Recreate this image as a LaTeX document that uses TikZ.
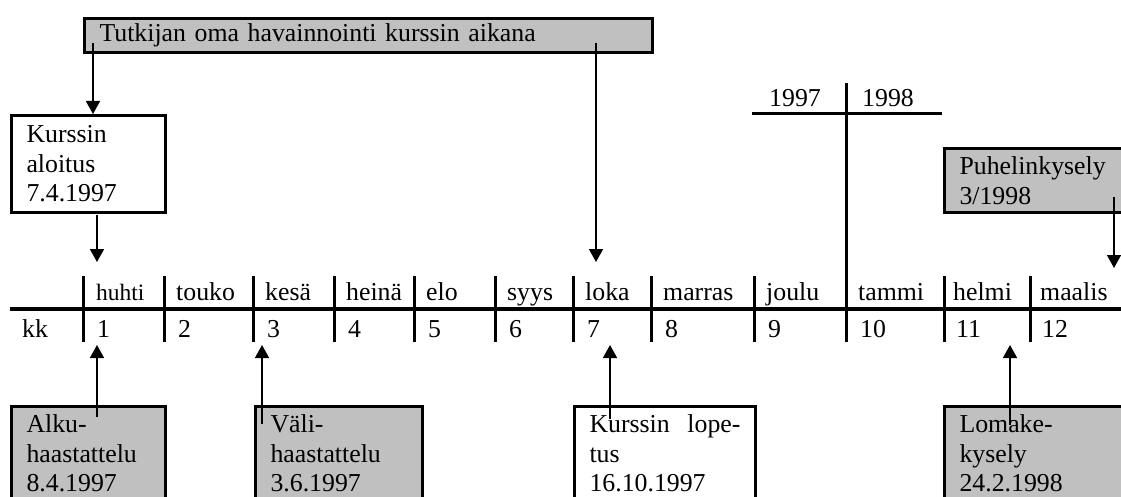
\documentclass[tikz,border=0pt]{standalone}
\usepackage{fontspec}
\setmainfont{Liberation Serif}
\usepackage{tikz}
\usetikzlibrary{positioning,arrows.meta}

\definecolor{boxgray}{RGB}{192,192,192}
\newcommand\monsmall{\fontsize{23.5}{28}\selectfont}
\tikzset{
  box/.style={draw, line width=3pt, anchor=north west, align=left, inner xsep=15pt, inner ysep=0pt},
  graybox/.style={box, fill=boxgray},
  arr/.style={line width=1.5pt, -{Triangle[width=14pt,length=13pt]}},
  sep/.style={line width=3pt},
  mon/.style={anchor=base west, inner sep=0pt},
}

\begin{document}
\begin{tikzpicture}[x=1pt, y=-1pt, every node/.append style={font=\fontsize{25.8}{29.5}\selectfont}]
    \useasboundingbox (0,0) rectangle (1121,497);
    \clip (0,0) rectangle (1121,497);

    % boxes
    \node[graybox, text width=538pt, minimum height=34pt] (obs) at (83,17) {Tutkijan oma havainnointi kurssin aikana};
    \node[box, text width=124pt, minimum height=97pt] (start) at (10,114) {Kurssin\\aloitus\\7.4.1997};
    \node[graybox, text width=220pt, minimum height=64pt] (phone) at (943,147) {Puhelinkysely\\3/1998};
    \node[graybox, text width=124pt, minimum height=94pt] (b1) at (10,405) {Alku-\\haastattelu\\8.4.1997};
    \node[graybox, text width=137pt, minimum height=94pt] (b3) at (254,405) {Väli-\\haastattelu\\3.6.1997};
    \node[box, text width=151pt, minimum height=94pt] (b7) at (573,405) {Kurssin\hfill lope-\\tus\\16.10.1997};
    \node[graybox, text width=220pt, minimum height=94pt] (b11) at (943,405) {Lomake-\\kysely\\24.2.1998};

    % years
    \node[mon] (y97) at (769,107) {1997};
    \node[mon] (y98) at (862,107) {1998};
    \draw[sep] (752,114) -- (942,114);
    \draw[sep] (846,83) -- (846,342);

    % time line
    \draw[line width=4.5pt] (10,309) -- (1121,309);
    \draw[sep] (83,276) -- (83,342);
    \draw[sep] (164,276) -- (164,342);
    \draw[sep] (253,276) -- (253,342);
    \draw[sep] (334,276) -- (334,342);
    \draw[sep] (414,276) -- (414,342);
    \draw[sep] (495,276) -- (495,342);
    \draw[sep] (573,276) -- (573,342);
    \draw[sep] (651,276) -- (651,342);
    \draw[sep] (754,276) -- (754,342);
    \draw[sep] (944,276) -- (944,342);
    \draw[sep] (1030,276) -- (1030,342);

    \node[mon, font=\monsmall] (m1) at (96,300) {huhti};
    \node[mon] (m2) at (176,300) {touko};
    \node[mon] (m3) at (265,300) {kesä};
    \node[mon] (m4) at (346,300) {heinä};
    \node[mon] (m5) at (426,300) {elo};
    \node[mon] (m6) at (507,300) {syys};
    \node[mon] (m7) at (585,300) {loka};
    \node[mon] (m8) at (663,300) {marras};
    \node[mon] (m9) at (766,300) {joulu};
    \node[mon] (m10) at (858,300) {tammi};
    \node[mon] (m11) at (953,300) {helmi};
    \node[mon] (m12) at (1040,300) {maalis};

    \node[mon] (kk) at (22,337) {kk};
    \node[mon] (n1) at (97,337) {1};
    \node[mon] (n2) at (178,337) {2};
    \node[mon] (n3) at (267,337) {3};
    \node[mon] (n4) at (348,337) {4};
    \node[mon] (n5) at (428,337) {5};
    \node[mon] (n6) at (509,337) {6};
    \node[mon] (n7) at (587,337) {7};
    \node[mon] (n8) at (665,337) {8};
    \node[mon] (n9) at (768,337) {9};
    \node[mon] (n10) at (860,337) {10};
    \node[mon] (n11) at (956,337) {11};
    \node[mon] (n12) at (1042,337) {12};

    % arrows
    \coordinate (obsL) at (93,43);
    \coordinate (obsR) at (596,43);
    \coordinate (startB) at (97,215);
    \coordinate (phoneB) at (1114,197);
    \coordinate (t1) at (97,262);
    \coordinate (t7) at (596,262);
    \coordinate (t12) at (1114,268);
    \draw[arr] (obsL) -- (obsL |- start.north);
    \draw[arr] (startB) -- (t1);
    \draw[arr] (obsR) -- (t7);
    \draw[arr] (phoneB) -- (t12);

    \coordinate (u1) at (97,345);
    \coordinate (u3) at (262,345);
    \coordinate (u7) at (610,345);
    \coordinate (u11) at (1010,345);
    \draw[arr] (u1 |- b1.north) ++(0,12) -- (u1);
    \draw[arr] (u3 |- b3.north) ++(0,19) -- (u3);
    \draw[arr] (u7 |- b7.north) ++(0,14) -- (u7);
    \draw[arr] (u11 |- b11.north) ++(0,20) -- (u11);
\end{tikzpicture}
\end{document}
